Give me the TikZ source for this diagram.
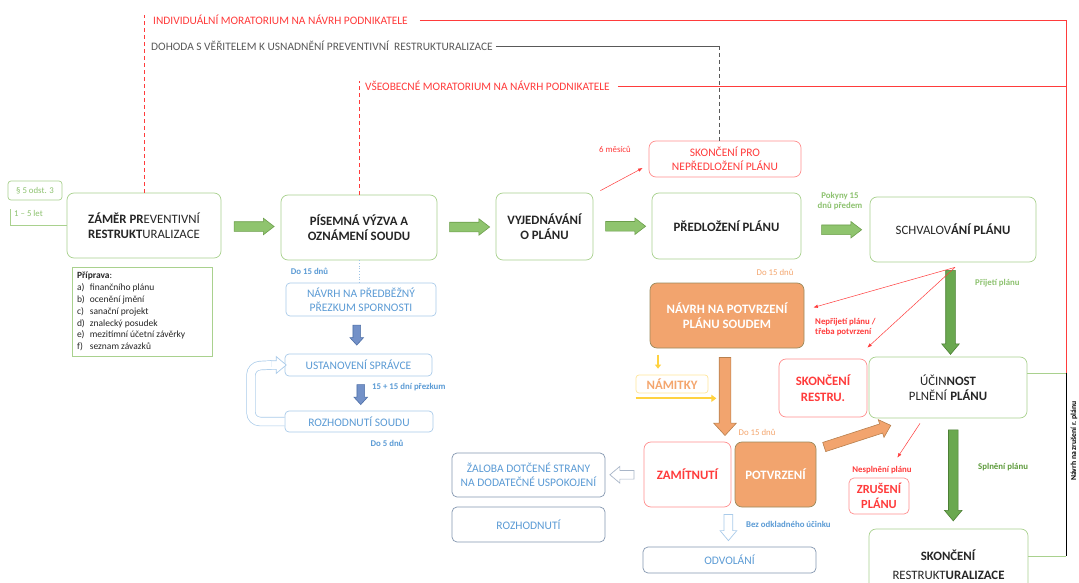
\documentclass[tikz,border=0pt]{standalone}
\usepackage{fontspec}
\setmainfont{Carlito}
\usetikzlibrary{shapes.arrows,arrows.meta,calc}

\definecolor{lgreen}{HTML}{A9D18E}
\definecolor{gfill}{HTML}{8FC46E}
\definecolor{gdraw}{HTML}{6C9E4B}
\definecolor{gdark}{HTML}{6AA84F}
\definecolor{gdarkdraw}{HTML}{4C7F34}
\definecolor{tgreen}{HTML}{8DC26F}
\definecolor{tgreendk}{HTML}{5E9B3C}
\definecolor{lred}{HTML}{FF8F8F}
\definecolor{tred}{HTML}{FF3B3B}
\definecolor{lblue}{HTML}{A9CBEA}
\definecolor{tblue}{HTML}{5B9BD5}
\definecolor{bfill}{HTML}{7391C8}
\definecolor{bdraw}{HTML}{4E6FA6}
\definecolor{orfill}{HTML}{F2A46E}
\definecolor{ordraw}{HTML}{9B8A5C}
\definecolor{orarrow}{HTML}{B8804E}
\definecolor{ortext}{HTML}{F4A66E}
\definecolor{ylw}{HTML}{FFD23F}
\definecolor{ylwbox}{HTML}{FFE699}
\definecolor{sgrey}{HTML}{8497B0}
\definecolor{txtdark}{HTML}{262626}
\definecolor{greytxt}{HTML}{595959}

\newcommand{\bigf}{\fontsize{12.8}{15.5}\selectfont}
\newcommand{\midf}{\fontsize{11.5}{14}\selectfont}
\newcommand{\topf}{\fontsize{11.4}{13}\selectfont}
\newcommand{\lblf}{\fontsize{8.8}{10.5}\selectfont}

\tikzset{
  box/.style={rounded corners=7pt, line width=0.7pt, fill=white, align=center, inner sep=0pt},
  gbox/.style={box, draw=lgreen, text=txtdark, font=\bigf},
  rbox/.style={box, draw=lred, text=tred, font=\midf},
  bbox/.style={box, rounded corners=4pt, draw=lblue, text=tblue, font=\midf},
  sbox/.style={box, rounded corners=5pt, draw=sgrey, text=tblue, font=\midf},
  obox/.style={box, fill=orfill, draw=ordraw, text=white, font=\bigf\bfseries},
  lbl/.style={font=\lblf, inner sep=0pt, align=center},
  garrow/.style={single arrow, draw=gdraw, fill=gfill, line width=0.6pt, inner sep=4.5pt,
    single arrow head extend=3.5pt, single arrow tip angle=75, minimum height=40},
  gdarrow/.style={single arrow, draw=gdarkdraw, fill=gdark, line width=0.6pt, inner sep=4.5pt,
    single arrow head extend=4pt, single arrow tip angle=80, rotate=-90},
  barrow/.style={single arrow, draw=bdraw, fill=bfill, line width=0.6pt, inner sep=3.5pt,
    single arrow head extend=3pt, single arrow tip angle=85, minimum height=20, rotate=-90},
  oarrow/.style={single arrow, draw=orarrow, fill=orfill, line width=0.6pt, inner sep=5.5pt,
    single arrow head extend=5.5pt, single arrow tip angle=85},
  harrow/.style={single arrow, draw=lblue, fill=white, line width=0.7pt, inner sep=4pt,
    single arrow head extend=4pt, single arrow tip angle=80},
  redarr/.style={draw=tred, line width=0.5pt, -{Latex[length=4.5pt,width=3.5pt]}},
  redline/.style={draw=tred, line width=0.8pt},
  reddash/.style={draw=tred, line width=0.8pt, dash pattern=on 4pt off 3pt},
}

\begin{document}
\begin{tikzpicture}[x=1pt,y=-1pt]
\fill[white] (0,0) rectangle (1079,583);
\useasboundingbox (0,0) rectangle (1079,583);

% moratoria and agreement
\node[lbl, font=\topf, text=tred, anchor=west] (indiv) at (153,20) {INDIVIDUÁLNÍ MORATORIUM NA NÁVRH PODNIKATELE};
\node[lbl, font=\topf, text=greytxt, anchor=west] (dohoda) at (151,46) {DOHODA S VĚŘITELEM K USNADNĚNÍ PREVENTIVNÍ\ \ RESTRUKTURALIZACE};
\node[lbl, font=\topf, text=tred, anchor=west] (vseob) at (365,86) {VŠEOBECNÉ MORATORIUM NA NÁVRH PODNIKATELE};

% main row
\node[gbox, minimum width=154, minimum height=65] (zamer) at (144,225.5) {\textbf{ZÁMĚR PR}EVENTIVNÍ\\\textbf{RESTRUKT}URALIZACE};
\node[gbox, font=\bigf\bfseries, minimum width=156, minimum height=65] (pisemna) at (359,227.5) {PÍSEMNÁ VÝZVA A\\OZNÁMENÍ SOUDU};
\node[gbox, font=\bigf\bfseries, minimum width=97, minimum height=67] (vyjed) at (544.5,226.5) {VYJEDNÁVÁNÍ\\O PLÁNU};
\node[gbox, font=\bigf\bfseries, minimum width=149, minimum height=66] (predl) at (726.5,226) {PŘEDLOŽENÍ PLÁNU};
\node[rbox, minimum width=152, minimum height=36] (skpro) at (725,159) {SKONČENÍ PRO\\NEPŘEDLOŽENÍ PLÁNU};
\node[gbox, minimum width=166, minimum height=65] (schval) at (953,229.5) {SCHVALOV\textbf{ÁNÍ PLÁNU}};

\node[garrow] (a1) at ($(zamer.east)!0.5!(pisemna.west)$) {};
\node[garrow] (a2) at ($(pisemna.east)!0.5!(vyjed.west)$) {};
\node[garrow] (a3) at ($(vyjed.east)!0.5!(predl.west)$) {};
\node[garrow] (a4) at ($(predl.east)!0.5!(schval.west)+(3,2)$) {};

% left side
\node[box, draw=lgreen, rounded corners=3pt, text=tgreen, font=\lblf, minimum width=54, minimum height=19] (par) at (35,190.5) {§ 5 odst. 3};
\node[lbl, text=tgreen, anchor=west] (let) at (14,213) {1 – 5 let};
\coordinate (b1) at (10,209);
\coordinate (b2) at (10,225);
\draw[lgreen, line width=0.7pt] (b1) -- (b2) -- (b2 -| zamer.west);
\node[draw=lgreen, line width=0.7pt, inner xsep=5pt, inner ysep=3pt, minimum width=140, minimum height=88, text=txtdark, font=\fontsize{9.5}{11.8}\selectfont] (priprava) at (142,312)
  {\parbox{130pt}{\begin{tabular}{@{}l@{\hspace{5pt}}l@{}}
   \multicolumn{2}{@{}l}{\textbf{Příprava}:}\\
   a) & finančního plánu\\
   b) & ocenění jmění\\
   c) & sanační projekt\\
   d) & znalecký posudek\\
   e) & mezitímní účetní závěrky\\
   f) & seznam závazků
   \end{tabular}}};

% court branch
\node[bbox, minimum width=150, minimum height=33] (navrh1) at (361,299.5) {NÁVRH NA PŘEDBĚŽNÝ\\PŘEZKUM SPORNOSTI};
\node[bbox, minimum width=147, minimum height=22] (ustan) at (358.5,365) {USTANOVENÍ SPRÁVCE};
\node[bbox, minimum width=148, minimum height=21] (rozh) at (359,421.5) {ROZHODNUTÍ SOUDU};
\node[barrow] (b3) at ($(navrh1.south)!0.5!(ustan.north)+(-3,-2)$) {};
\node[barrow] (b4) at ($(ustan.south)!0.5!(rozh.north)+(2,-1)$) {};
\node[lbl, font=\lblf\bfseries, text=tblue] (d15a) at (309.5,271) {Do 15 dnů};
\node[lbl, font=\lblf\bfseries, text=tblue, anchor=west] (prez) at (372,387) {15 + 15 dní přezkum};
\node[lbl, font=\lblf\bfseries, text=tblue] (d5) at (387,443) {Do 5 dnů};
\draw[tblue!60, line width=0.7pt, dotted] (pisemna.south) -- (pisemna.south |- navrh1.north);
\node[harrow, minimum height=16] (loophead) at ([xshift=-9pt]ustan.west) {};
\draw[lblue, line width=0.7pt, double=white, double distance=8pt, rounded corners=9pt]
  (rozh.west) -- (251,421.5) -- (251,366) -- ([xshift=-4pt]loophead.center);

% confirmation by court
\node[obox, minimum width=154, minimum height=65] (np) at (727,315.5) {NÁVRH NA POTVRZENÍ\\PLÁNU SOUDEM};
\node[box, draw=ylwbox, text=ortext, font=\bigf\bfseries, rounded corners=3pt, minimum width=72, minimum height=18] (namitky) at (672,384) {NÁMITKY};
\node[lbl, font=\lblf, text=ortext] (d15b) at (775,272) {Do 15 dnů};
\node[lbl, font=\lblf, text=ortext] (d15c) at (757,432) {Do 15 dnů};
\draw[ylw, line width=1.2pt, -{Triangle[length=4pt,width=6pt]}] ([xshift=-14pt,yshift=20pt]namitky.north) -- ([xshift=-14pt,yshift=6pt]namitky.north);
\draw[ylw, line width=1.8pt, -{Triangle[length=5pt,width=7pt]}] ([yshift=-5pt]namitky.south west) -- ([xshift=8pt,yshift=-5pt]namitky.south east);
\node[oarrow, minimum height=78, rotate=-90] (o1) at ([xshift=-2pt,yshift=-45pt]np.south) {};

\node[rbox, font=\bigf\bfseries, minimum width=87, minimum height=65] (zamit) at (687.5,474.5) {ZAMÍTNUTÍ};
\node[obox, minimum width=81, minimum height=65] (potvr) at (775.5,474.5) {POTVRZENÍ};
\node[sbox, minimum width=153, minimum height=44] (zaloba) at (528.5,475) {ŽALOBA DOTČENÉ STRANY\\NA DODATEČNÉ USPOKOJENÍ};
\node[sbox, minimum width=153, minimum height=35] (rozhod) at (528.5,524.5) {ROZHODNUTÍ};
\node[sbox, minimum width=173, minimum height=26] (odvol) at (729.5,560) {ODVOLÁNÍ};
\node[harrow, draw=sgrey!70, minimum height=24, rotate=180] (h1) at ($(zaloba.east)!0.5!(zamit.west)$) {};
\node[harrow, minimum height=26, rotate=-90] (h2) at ($(zamit.south east)!0.5!(odvol.north)+(-2,-2)$) {};
\node[lbl, font=\lblf\bfseries, text=tblue, anchor=west] (bez) at (746,524) {Bez odkladného účinku};

% approval and performance
\node[rbox, font=\bigf\bfseries, minimum width=88, minimum height=58] (skrestru) at (823,388) {SKONČENÍ\\RESTRU.};
\node[gbox, minimum width=158, minimum height=61] (ucin) at (948,387.5) {ÚČIN\textbf{NOST}\\PLNĚNÍ \textbf{PLÁNU}};
\node[rbox, font=\fontsize{12.4}{15}\selectfont\bfseries, rounded corners=5pt, minimum width=60, minimum height=36] (zruseni) at (879,496) {ZRUŠENÍ\\PLÁNU};
\node[gbox, minimum width=159, minimum height=71] (skonceni) at (948.5,564.5) {\textbf{SKONČENÍ}\\[4pt]RESTRUKT\textbf{URALIZACE}};
\node[gdarrow, minimum height=84] (g1) at ($(schval.south)!0.5!(ucin.north)+(0,0)$) {};
\node[gdarrow, minimum height=91] (g2) at ($(ucin.south)!0.5!(skonceni.north)+(5,-1)$) {};
\node[oarrow, minimum height=70, inner sep=4.5pt, single arrow head extend=4.5pt, rotate=18] (o2) at (855,437) {};

\node[lbl, font=\lblf\bfseries, text=tgreen] (pokyny) at (840,201) {Pokyny 15\\dnů předem};
\node[lbl, font=\lblf\bfseries, text=tgreen, anchor=west] (prijeti) at (975,283) {Přijetí plánu};
\node[lbl, font=\lblf\bfseries, text=tred, align=left, anchor=west] (neprij) at (815,327) {Nepřijetí plánu /\\třeba potvrzení};
\node[lbl, font=\lblf\bfseries, text=tred] (nespl) at (882,470) {Nesplnění plánu};
\node[lbl, font=\lblf\bfseries, text=tgreendk, anchor=west] (spl) at (978,467) {Splnění plánu};
\node[lbl, font=\lblf, text=tred] (mes) at (615,149) {6 měsíců};

\draw[redarr] ([xshift=7pt,yshift=2pt]vyjed.north east) -- ([xshift=-6pt,yshift=-9pt]skpro.west);
\draw[redarr] ([xshift=2pt,yshift=-5pt]schval.south) -- ([xshift=9pt,yshift=8pt]np.east);
\draw[redarr] ([xshift=2pt,yshift=-5pt]schval.south) -- ([yshift=11pt]skrestru.north east);
\draw[redarr] ([xshift=-28pt,yshift=-5pt]ucin.south) -- ([xshift=-12pt,yshift=20pt]zruseni.north east);

% frame lines on the right
\coordinate (rtop) at (1066,20);
\coordinate (rmid) at (1066,373);
\coordinate (rbot) at (1066,556);
\draw[redline] ([xshift=12pt]indiv.east) -- (indiv.east -| rtop) -- (rmid);
\draw[redline] ([xshift=8pt]vseob.east) -- (vseob.east -| rtop);
\draw[reddash] (zamer.north) -- (zamer.north |- indiv.north);
\draw[reddash] (pisemna.north) -- (pisemna.north |- vseob.north);
\draw[greytxt, line width=0.8pt] ([xshift=3pt]dohoda.east) -- ($(skpro.north |- dohoda.east)+(-6,0)$);
\draw[greytxt, line width=0.8pt, dash pattern=on 4pt off 3pt] ($(skpro.north |- dohoda.east)+(-6,0)$) -- ($(skpro.north)+(-6,0)$);
\draw[lgreen, line width=0.8pt] ([yshift=14.5pt]ucin.east) -- (rmid);
\draw[black, line width=0.8pt] (rmid) -- (rbot);
\draw[lgreen, line width=0.8pt] ([yshift=8.5pt]skonceni.east) -- (rbot);
\node[lbl, font=\fontsize{7.7}{9}\selectfont\bfseries, text=black, rotate=90] (zrus) at (1074,441) {Návrh na zrušení r. plánu};
\end{tikzpicture}
\end{document}
